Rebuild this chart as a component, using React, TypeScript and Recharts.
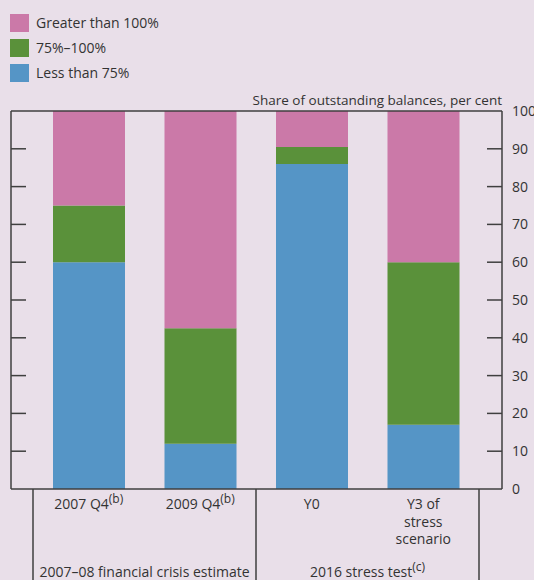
import React from 'react';
import { BarChart, Bar, XAxis, YAxis, Legend } from 'recharts';

const categories = ['2007 Q4', '2009 Q4', 'Y0', 'Y3 of stress scenario'];
const categoryLines = [['2007 Q4'], ['2009 Q4'], ['Y0'], ['Y3 of', 'stress', 'scenario']];
const categoryNotes = ['(b)', '(b)', '', ''];
const lessThan75 = [60, 12, 86, 17];
const from75to100 = [15, 30.5, 4.5, 43];
const greaterThan100 = [25, 57.5, 9.5, 40];
const legendOrder = ['Greater than 100%', '75%–100%', 'Less than 75%'];
const groupLabels = ['2007–08 financial crisis estimate', '2016 stress test'];
const groupNotes = ['', '(c)'];
const groupStarts = [0, 2];
const yTicks = [0, 10, 20, 30, 40, 50, 60, 70, 80, 90, 100];
const yTitle = 'Share of outstanding balances, per cent';

const data = categories.map((c, i) => ({
  name: c,
  lt75: lessThan75[i],
  mid: from75to100[i],
  gt100: greaterThan100[i],
}));

const W = 534;
const H = 580;
const LEFT_W = 11;
const RIGHT_W = 32;
const TOP = 111;
const XAXIS_H = 91;
const PAD_L = 22;
const PAD_R = 23;
const PLOT_W = W - LEFT_W - RIGHT_W;
const BAND = (PLOT_W - PAD_L - PAD_R) / categories.length;

const BG = '#e9dfe9';
const FRAME = '#3f3f3f';
const TEXT = '#333333';
const PINK = '#cb79a8';
const GREEN = '#5a913a';
const BLUE = '#5595c6';
const FONT = '"Open Sans", "Noto Sans", sans-serif';

const XTick = (props: any) => {
  const { x, y, index } = props;
  const lines = categoryLines[index];
  const note = categoryNotes[index];
  const els: any[] = [];
  lines.forEach((ln: string, li: number) => {
    els.push(
      <text key={'l' + li} x={x} y={y + 20 + li * 17.5} textAnchor="middle" fontSize={14} fill={TEXT} fontFamily={FONT}>
        {ln}
        {note && li === 0 ? (
          <tspan fontSize={12} dy={-6}>{note}</tspan>
        ) : null}
      </text>
    );
  });
  const gi = groupStarts.indexOf(index);
  if (gi >= 0) {
    els.push(
      <line key="sep" x1={x - BAND / 2} x2={x - BAND / 2} y1={y} y2={H} stroke={FRAME} strokeWidth={1.5} />
    );
    els.push(
      <text key="g" x={x + BAND / 2} y={y + 88} textAnchor="middle" fontSize={14} fill={TEXT} fontFamily={FONT}>
        {groupLabels[gi]}
        {groupNotes[gi] ? <tspan fontSize={12} dy={-6}>{groupNotes[gi]}</tspan> : null}
      </text>
    );
  }
  if (index === categories.length - 1) {
    els.push(
      <line key="end" x1={x + BAND / 2} x2={x + BAND / 2} y1={y} y2={H} stroke={FRAME} strokeWidth={1.5} />
    );
  }
  return <g>{els}</g>;
};

const RightTick = (props: any) => {
  const { x, y, payload } = props;
  const v = payload.value;
  const inner = v > 0 && v < 100;
  return (
    <g>
      {inner ? <line x1={x - 15} x2={x} y1={y} y2={y} stroke={FRAME} strokeWidth={1.5} /> : null}
      {inner ? <line x1={x - PLOT_W} x2={x - PLOT_W + 15} y1={y} y2={y} stroke={FRAME} strokeWidth={1.5} /> : null}
      {v === 100 ? <line x1={x - PLOT_W} x2={x} y1={y} y2={y} stroke={FRAME} strokeWidth={1.5} /> : null}
      {v === 100 ? <line x1={x - PLOT_W} x2={x - PLOT_W} y1={y} y2={y + (H - XAXIS_H - TOP)} stroke={FRAME} strokeWidth={1.5} /> : null}
      <text x={x + 10} y={y} dy={5} textAnchor="start" fontSize={14} fill={TEXT} fontFamily={FONT}>
        {v}
      </text>
    </g>
  );
};

const LegendContent = (props: any) => {
  const items = [...(props.payload || [])].sort(
    (a: any, b: any) => legendOrder.indexOf(a.value) - legendOrder.indexOf(b.value)
  );
  return (
    <div style={{ fontFamily: FONT }}>
      {items.map((it: any, i: number) => (
        <div key={i} style={{ display: 'flex', alignItems: 'center', height: 25 }}>
          <div style={{ width: 19, height: 18, background: it.color, marginRight: 7 }} />
          <span style={{ fontSize: 14, color: TEXT }}>{it.value}</span>
        </div>
      ))}
    </div>
  );
};

const TitleLabel = (props: any) => {
  const { viewBox } = props;
  return (
    <text x={viewBox.x} y={viewBox.y - 6} textAnchor="end" fontSize={13.5} fill={TEXT} fontFamily={FONT}>
      {yTitle}
    </text>
  );
};

export default function App() {
  return (
    <div style={{ position: 'absolute', left: 0, top: 0, width: W, height: H, background: BG }}>
      <BarChart
        width={W}
        height={H}
        data={data}
        margin={{ top: TOP, right: 0, bottom: 0, left: LEFT_W }}
        barSize={72}
      >
        <XAxis
          dataKey="name"
          orientation="bottom"
          height={XAXIS_H}
          padding={{ left: PAD_L, right: PAD_R }}
          tickLine={false}
          tickSize={0}
          tickMargin={0}
          tick={<XTick />}
          interval={0}
          axisLine={{ stroke: FRAME, strokeWidth: 1.5 }}
        />
        <YAxis
          orientation="right"
          width={RIGHT_W}
          domain={[0, 100]}
          ticks={yTicks}
          tickLine={false}
          tickSize={0}
          tickMargin={0}
          tick={<RightTick />}
          axisLine={{ stroke: FRAME, strokeWidth: 1.5 }}
          label={{ content: <TitleLabel /> } as any}
        />
        <Legend
          verticalAlign="middle"
          align="center"
          layout="horizontal"
          content={<LegendContent />}
          wrapperStyle={{ top: 10, left: 10, width: 300, height: 75 }}
        />
        <Bar dataKey="lt75" name="Less than 75%" stackId="a" fill={BLUE} isAnimationActive={false} />
        <Bar dataKey="mid" name="75%–100%" stackId="a" fill={GREEN} isAnimationActive={false} />
        <Bar dataKey="gt100" name="Greater than 100%" stackId="a" fill={PINK} isAnimationActive={false} />
      </BarChart>
    </div>
  );
}
